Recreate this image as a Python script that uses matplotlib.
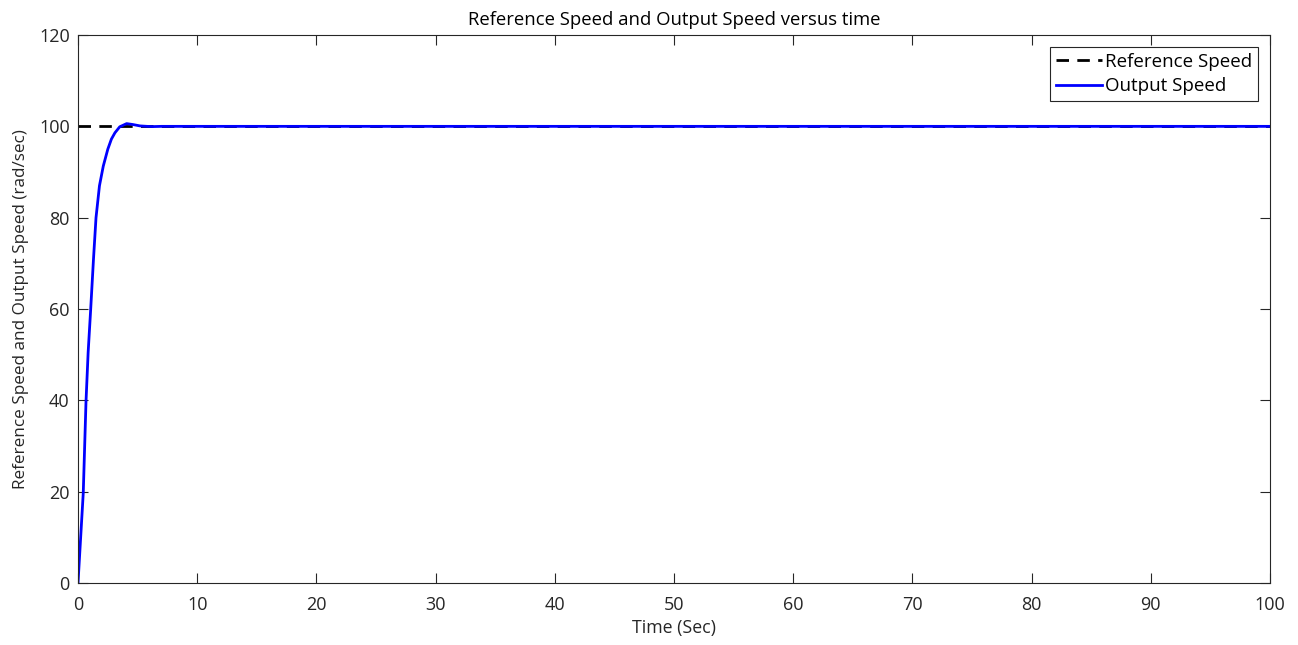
import matplotlib.pyplot as plt

plt.rcParams['font.family'] = ['Open Sans', 'DejaVu Sans']

# values
time_ref = [0, 100]
speed_ref = [100, 100]

time_out = [0, 0.2, 0.44, 0.67, 0.85, 1.06, 1.3, 1.51, 1.8, 2.12, 2.5, 2.8, 3.1,
            3.5, 4.08, 4.6, 5.2, 5.8, 6.3, 7, 8, 10, 100]
speed_out = [0, 9, 19.7, 39.7, 50.5, 59.8, 71, 80, 87, 91.3, 95, 97.2, 98.6,
             99.9, 100.6, 100.4, 100.1, 100.0, 99.95, 100, 100, 100, 100]

fig = plt.figure(figsize=(12.98, 6.45), dpi=100)
ax = fig.add_axes([0.0601, 0.0961, 0.9183, 0.8496])

ax.plot(time_ref, speed_ref, '--', color='black', lw=2, dashes=(4.5, 3), label='Reference Speed')
ax.plot(time_out, speed_out, '-', color='#0000ff', lw=2, label='Output Speed')

ax.set_xlim(0, 100)
ax.set_ylim(0, 120)
ax.set_xticks(range(0, 101, 10))
ax.set_yticks(range(0, 121, 20))

for s in ax.spines.values():
    s.set_color('#262626')
    s.set_linewidth(0.8)
ax.tick_params(direction='in', top=True, right=True, length=7, width=0.8,
               colors='#262626', labelsize=13)
ax.tick_params(axis='x', pad=9)
ax.tick_params(axis='y', pad=6)

ax.set_title('Reference Speed and Output Speed versus time', fontsize=13.3, color='black', pad=7)
ax.set_xlabel('Time (Sec)', fontsize=12.8, color='#262626', labelpad=4)
ax.set_ylabel('Reference Speed and Output Speed (rad/sec)', fontsize=12.3, color='#262626', labelpad=7)

leg = ax.legend(loc='upper right', fontsize=13.5, fancybox=False, framealpha=1,
                edgecolor='#262626', handlelength=2.5, handletextpad=0.15,
                borderpad=0.3, labelspacing=0.35, borderaxespad=0.0,
                bbox_to_anchor=((1258 - 78) / 1192, (583 - 47) / 548))
leg.get_frame().set_linewidth(0.8)

fig.savefig('out.png', dpi=100)
